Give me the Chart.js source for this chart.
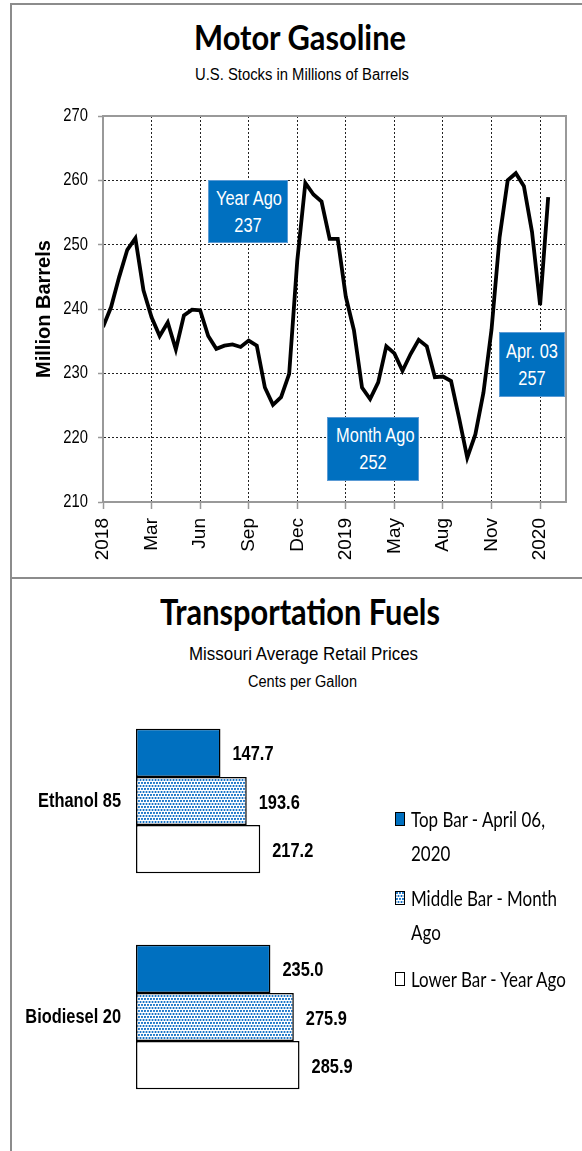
<!DOCTYPE html>
<html>
<head>
<meta charset="utf-8">
<script src="https://cdn.jsdelivr.net/npm/chart.js@4.4.1/dist/chart.umd.min.js"></script>
<style>
  html, body { margin: 0; padding: 0; background: #fff; }
  body { width: 582px; height: 1151px; position: relative; overflow: hidden; }
  .frame { position: absolute; background: #8c8c8c; }
  .txt { position: absolute; white-space: nowrap; line-height: 1; transform-origin: 0 0; color: #000; display: inline-block; }
  .title { font-family: Lato, "Open Sans", sans-serif; font-weight: bold; }
  .sub { font-family: "Liberation Sans", Arial, sans-serif; }
  .box { position: absolute; background: #0070C0; border: 1px solid #5b9bd5; box-sizing: border-box; color: #fff;
         font-family: "Liberation Sans", Arial, sans-serif; font-size: 20px; line-height: 27px;
         text-align: center; display: flex; flex-direction: column; justify-content: center; }
  .box div { white-space: nowrap; transform: scaleX(0.82); transform-origin: 50% 50%; }
  #legend { position: absolute; left: 395px; top: 0; width: 190px; height: 1151px; }
  .sw { position: absolute; width: 10px; height: 14px; box-sizing: border-box; border: 1.5px solid #000; }
  .lt { position: absolute; left: 16px; font-family: Lato, "Open Sans", sans-serif; font-size: 21px; line-height: 1; white-space: nowrap; transform-origin: 0 0; }
  canvas { position: absolute; left: 0; }
</style>
</head>
<body>
<script>
// ---------------- DATA ----------------
const gasolineStocks = [
  237.2, 240.3, 245.0, 249.2, 251.0, 242.9, 238.7, 235.8, 237.9, 233.7,
  239.0, 239.9, 239.8, 235.8, 233.8, 234.3, 234.5, 234.1, 235.1, 234.3,
  227.8, 225.1, 226.3, 229.9, 247.5, 259.6, 257.8, 256.7, 250.9, 250.9,
  241.9, 236.7, 227.8, 226.0, 228.6, 234.2, 233.1, 230.4, 233.0, 235.2,
  234.2, 229.4, 229.5, 228.8, 223.0, 216.9, 220.5, 227.0, 236.8, 251.2,
  260.0, 261.1, 259.1, 252.0, 240.6, 257.4
];
const xTickPositions = [0, 6, 12, 18, 24, 30, 36, 42, 48, 54];
const xTickLabels = ['2018', 'Mar', 'Jun', 'Sep', 'Dec', '2019', 'May', 'Aug', 'Nov', '2020'];
const yMin = 210, yMax = 270, yStep = 10;
const yAxisTitle = 'Million Barrels';
const callouts = [['Year Ago', '237'], ['Month Ago', '252'], ['Apr. 03', '257']];

const fuelCategories = ['Ethanol 85', 'Biodiesel 20'];
const topBarValues = [147.7, 235.0];
const middleBarValues = [193.6, 275.9];
const lowerBarValues = [217.2, 285.9];
const legendLines = [['Top Bar - April 06,', '2020'], ['Middle Bar - Month', 'Ago'], ['Lower Bar - Year Ago']];
</script>

<div class="frame" style="left:10px;top:3px;width:2px;height:1148px"></div>
<div class="frame" style="left:10px;top:3px;width:572px;height:2px"></div>
<div class="frame" style="left:10px;top:577px;width:572px;height:2px"></div>

<div class="txt title fit" data-w="212" style="left:194px;top:19px;font-size:35px">Motor Gasoline</div>
<div class="txt sub fit" data-w="214" style="left:195px;top:67px;font-size:16px">U.S. Stocks in Millions of Barrels</div>
<div class="txt title fit" data-w="280" style="left:160px;top:593px;font-size:36px">Transportation Fuels</div>
<div class="txt sub fit" data-w="229" style="left:189px;top:644px;font-size:19px">Missouri Average Retail Prices</div>
<div class="txt sub fit" data-w="109" style="left:248px;top:674px;font-size:16px">Cents per Gallon</div>

<canvas id="c1" width="582" height="578" style="top:0;width:582px;height:578px"></canvas>
<canvas id="c2" width="582" height="573" style="top:578px;width:582px;height:573px"></canvas>

<div class="box" id="b0" style="left:208px;top:180px;width:80px;height:63px"></div>
<div class="box" id="b1" style="left:327px;top:417px;width:92px;height:64px"></div>
<div class="box" id="b2" style="left:499px;top:332px;width:66px;height:65px"></div>

<div id="legend"></div>

<script>
const NARROW = 0.82;
function narrowText(ctx, text, x, y, align, font, sx) {
  ctx.save();
  ctx.font = font;
  ctx.fillStyle = '#000';
  ctx.textAlign = align;
  ctx.textBaseline = 'middle';
  ctx.translate(x, y);
  ctx.scale(sx || NARROW, 1);
  ctx.fillText(text, 0, 0);
  ctx.restore();
}

// callout boxes text
callouts.forEach((lines, i) => {
  const b = document.getElementById('b' + i);
  lines.forEach(t => { const d = document.createElement('div'); d.textContent = t; b.appendChild(d); });
});

// dotted pattern for middle bars
function dotPattern() {
  const p = document.createElement('canvas');
  p.width = 6; p.height = 6;
  const g = p.getContext('2d');
  g.fillStyle = '#fff'; g.fillRect(0, 0, 6, 6);
  g.fillStyle = '#0a6cc4';
  [[1, 1], [4, 1], [2.5, 4], [5.5, 4], [-0.5, 4]].forEach(([x, y]) => { g.beginPath(); g.arc(x, y, 1.05, 0, Math.PI * 2); g.fill(); });
  return p;
}
const patCanvas = dotPattern();
const ctx2 = document.getElementById('c2').getContext('2d');
const midPattern = ctx2.createPattern(patCanvas, 'repeat');

// legend
const legendFills = ['#0070C0', 'url(' + patCanvas.toDataURL() + ')', '#fff'];
const legendTop = [807.9, 886.9, 967.9];
const leg = document.getElementById('legend');
legendLines.forEach((lines, i) => {
  const sw = document.createElement('div');
  sw.className = 'sw';
  sw.style.left = '0px';
  sw.style.top = (legendTop[i] + 4.5) + 'px';
  sw.style.background = legendFills[i];
  leg.appendChild(sw);
  lines.forEach((t, j) => {
    const d = document.createElement('div');
    d.className = 'lt';
    d.textContent = t;
    d.style.top = (legendTop[i] + j * 34) + 'px';
    leg.appendChild(d);
  });
});

Chart.defaults.font.family = '"Liberation Sans", Arial, sans-serif';
Chart.defaults.color = '#000';

// ---------- Chart 1: line ----------
const frame1 = {
  id: 'frame1',
  afterDraw(chart) {
    const { ctx, chartArea: a } = chart;
    ctx.save();
    ctx.strokeStyle = '#999';
    ctx.lineWidth = 2;
    ctx.strokeRect(a.left, a.top, a.right - a.left, a.bottom - a.top);
    ctx.restore();
    const ys = chart.scales.y;
    ys.ticks.forEach(t => {
      narrowText(ctx, String(t.value), a.left - 15, ys.getPixelForValue(t.value), 'right', '18px "Liberation Sans", Arial, sans-serif');
    });
  }
};

new Chart(document.getElementById('c1'), {
  type: 'line',
  data: {
    datasets: [{
      data: gasolineStocks.map((v, i) => ({ x: i, y: v })),
      borderColor: '#000',
      borderWidth: 3.8,
      pointRadius: 0,
      tension: 0,
      borderJoinStyle: 'miter'
    }]
  },
  options: {
    responsive: false,
    animation: false,
    layout: { padding: { left: 26, top: 116, right: 16, bottom: 0 } },
    plugins: { legend: { display: false }, tooltip: { enabled: false } },
    scales: {
      x: {
        type: 'linear', min: 0, max: 57.2,
        afterBuildTicks: s => { s.ticks = xTickPositions.map(v => ({ value: v })); },
        afterFit: s => { s.height = 76; },
        ticks: {
          autoSkip: false, maxRotation: 90, minRotation: 90, padding: 9,
          font: { size: 19 },
          callback: v => xTickLabels[xTickPositions.indexOf(v)]
        },
        grid: { color: '#222', lineWidth: 1, tickLength: 7, tickColor: '#999', tickWidth: 1.5 },
        border: { display: true, color: '#999', width: 2, dash: [2, 2] }
      },
      y: {
        min: yMin, max: yMax,
        afterFit: s => { s.width = 77; },
        ticks: { stepSize: yStep, display: false },
        grid: { color: '#222', lineWidth: 1, tickLength: 5, tickColor: '#999', tickWidth: 1.5 },
        border: { display: true, color: '#999', width: 2, dash: [2, 2] },
        title: {
          display: true, text: yAxisTitle, padding: { top: 6, bottom: 0 },
          font: { size: 20, weight: 'bold' }
        }
      }
    }
  },
  plugins: [frame1]
});

// ---------- Chart 2: bars ----------
const barLabels = {
  id: 'barLabels',
  afterDatasetsDraw(chart) {
    const { ctx } = chart;
    const f = 'bold 20px "Liberation Sans", Arial, sans-serif';
    chart.data.datasets.forEach((ds, di) => {
      chart.getDatasetMeta(di).data.forEach((bar, i) => {
        narrowText(ctx, ds.data[i].toFixed(1), bar.x + 12, bar.y + 2, 'left', f);
      });
    });
    const ys = chart.scales.y;
    chart.data.labels.forEach((lab, i) => {
      narrowText(ctx, lab, chart.chartArea.left - 15, ys.getPixelForValue(i), 'right', f);
    });
  }
};

new Chart(ctx2, {
  type: 'bar',
  data: {
    labels: fuelCategories,
    datasets: [
      { label: 'Top Bar - April 06, 2020', data: topBarValues, backgroundColor: '#0070C0' },
      { label: 'Middle Bar - Month Ago', data: middleBarValues, backgroundColor: midPattern },
      { label: 'Lower Bar - Year Ago', data: lowerBarValues, backgroundColor: '#fff' }
    ]
  },
  options: {
    indexAxis: 'y',
    responsive: false,
    animation: false,
    layout: { padding: { left: 0, top: 115, right: 217.2, bottom: 26 } },
    datasets: { bar: { categoryPercentage: 0.67, barPercentage: 1.0, borderColor: '#000', borderWidth: 1.5, borderSkipped: false } },
    plugins: { legend: { display: false }, tooltip: { enabled: false } },
    scales: {
      x: { display: false, min: 0, max: 400 },
      y: {
        afterFit: s => { s.width = 136; },
        grid: { display: false, drawTicks: false },
        border: { display: false },
        ticks: { display: false }
      }
    }
  },
  plugins: [barLabels]
});

// fit horizontal text widths (layout only)
function fitTexts() {
  document.querySelectorAll('.fit').forEach(el => {
    el.style.transform = 'none';
    const w = el.getBoundingClientRect().width;
    el.style.transform = 'scaleX(' + (+el.dataset.w / w) + ')';
  });
  const lts = document.querySelectorAll('.lt');
  lts.forEach(el => el.style.transform = 'none');
  const s = 134 / lts[0].getBoundingClientRect().width;
  lts.forEach(el => el.style.transform = 'scaleX(' + s + ')');
}
fitTexts();
if (document.fonts && document.fonts.ready) document.fonts.ready.then(fitTexts);
</script>
</body>
</html>
